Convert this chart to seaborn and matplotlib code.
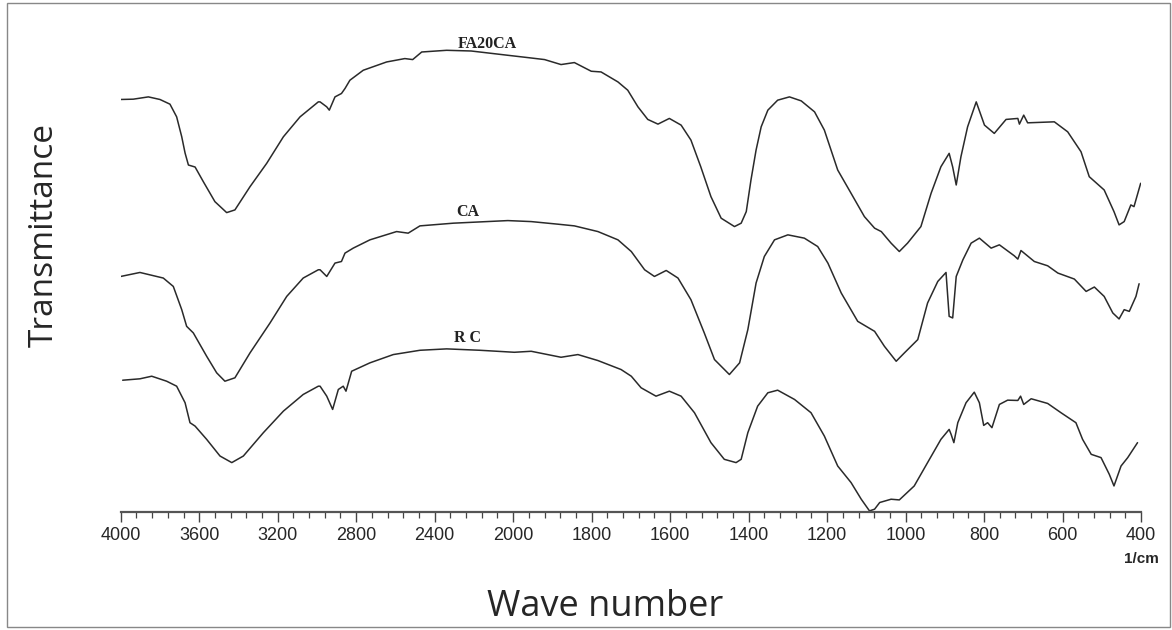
import numpy as np
import pandas as pd
import matplotlib
matplotlib.use("Agg")
import matplotlib.pyplot as plt
from matplotlib.patches import Rectangle
from matplotlib.ticker import FixedLocator
import seaborn as sns

# FTIR spectra (wavenumber in 1/cm, stacked transmittance in a.u.)
fa20ca_wn = [4000, 3936, 3859, 3800, 3749, 3715, 3689, 3672, 3655, 3621, 3579, 3520, 3460,
             3418, 3341, 3256, 3171, 3086, 2993, 2984, 2950, 2937, 2908, 2875, 2857, 2832,
             2764, 2645, 2552, 2512, 2466, 2339, 2214, 2027, 1963, 1920, 1878, 1844, 1801,
             1776, 1733, 1708, 1682, 1657, 1631, 1602, 1572, 1547, 1522, 1496, 1470, 1436,
             1419, 1406, 1394, 1381, 1368, 1351, 1326, 1296, 1266, 1232, 1207, 1173, 1139,
             1105, 1079, 1062, 1037, 1016, 995, 961, 935, 910, 889, 880, 871, 859, 842, 820,
             799, 774, 744, 714, 710, 699, 689, 621, 587, 553, 532, 494, 469, 456, 443, 426,
             418, 401]
fa20ca_t = [412.7, 413, 415.3, 412.7, 408, 395.3, 375.3, 359, 347, 345, 330.3, 310.3, 299.3,
            302, 325.3, 348.7, 375.3, 395.3, 410.3, 410.3, 405.3, 402, 415.3, 418.7, 423.7, 432,
            442, 450.3, 453.7, 452.7, 460.3, 462, 461.3, 457, 454.7, 452.7, 447.7, 449.7, 441,
            440.3, 430.3, 422, 405.3, 392.7, 388, 393.7, 387, 372, 345.3, 315.3, 293.7, 285.3,
            288.7, 300.3, 332, 362, 385.3, 402, 412, 415.3, 411.3, 400.3, 382, 342, 318.7,
            295.3, 283.7, 280.3, 268.7, 260.3, 268.7, 285.3, 318.7, 345.3, 358.7, 345, 327,
            355.3, 385.3, 410.3, 387, 378.7, 392.7, 393.7, 388, 397, 389.3, 390.3, 380.3,
            360.3, 335.3, 322, 300.3, 287, 290.3, 307, 305.3, 328.7]

ca_wn = [4000, 3902, 3783, 3732, 3689, 3664, 3630, 3562, 3511, 3469, 3418, 3341, 3239, 3154,
         3070, 2993, 2984, 2950, 2908, 2875, 2857, 2815, 2730, 2594, 2535, 2475, 2305, 2027,
         1954, 1886, 1844, 1784, 1733, 1699, 1665, 1640, 1610, 1580, 1547, 1513, 1487, 1449,
         1423, 1402, 1381, 1360, 1334, 1300, 1258, 1224, 1198, 1164, 1122, 1079, 1054, 1024,
         1003, 969, 944, 918, 897, 889, 880, 871, 854, 833, 812, 782, 761, 723, 714, 706,
         672, 638, 612, 570, 540, 519, 494, 472, 456, 443, 430, 413, 405]
ca_t = [235.3, 239.3, 233.7, 225.3, 202, 185.3, 178.7, 155.3, 138.7, 130.3, 133.7, 158.7,
        188.7, 215.3, 233.7, 242, 242, 235.3, 248.7, 250.3, 258.7, 263.7, 272, 280.3, 278.7,
        286, 288.7, 291.3, 290.3, 287.7, 286, 280.3, 272, 260.3, 242, 235.3, 241.3, 233.7,
        212, 178.7, 152, 137, 148.7, 182, 228.7, 255.3, 272, 277, 273.7, 265.3, 248.7, 218.7,
        190.3, 180.3, 165.3, 150.3, 158.7, 172, 208.7, 230.3, 239.3, 195.3, 193.7, 235.3,
        252, 268.7, 273.7, 263.7, 267, 256, 252.7, 261.3, 250.3, 246, 238.7, 232.7, 220.3,
        224.7, 215.3, 198.7, 192.7, 202, 200.3, 215.3, 228]

rc_wn = [3990, 3902, 3842, 3766, 3715, 3672, 3647, 3621, 3562, 3494, 3434, 3375, 3273, 3171,
         3070, 2993, 2984, 2950, 2920, 2891, 2866, 2852, 2823, 2730, 2611, 2475, 2339, 2169,
         1997, 1954, 1878, 1835, 1784, 1725, 1699, 1674, 1636, 1602, 1572, 1538, 1496, 1462,
         1432, 1419, 1402, 1377, 1351, 1326, 1283, 1241, 1207, 1173, 1139, 1113, 1092, 1079,
         1066, 1037, 1016, 978, 944, 910, 889, 884, 877, 867, 846, 825, 812, 801, 791, 780,
         761, 740, 714, 707, 699, 680, 638, 604, 566, 549, 527, 502, 481, 469, 451, 434, 409]
rc_t = [131.3, 132.7, 135.3, 130.3, 125.3, 108.7, 88.7, 85.3, 72, 55.3, 48.7, 55.3, 78.7,
        100.3, 117, 125.3, 125.3, 115.3, 102, 122, 125.3, 120.3, 140.3, 148.7, 157, 161.3,
        162.7, 161.3, 159.3, 160.3, 154.3, 157, 151, 142, 135.3, 123.7, 115.3, 120.3, 115.3,
        98.7, 68.7, 52, 48.7, 52, 78.7, 105.3, 118.7, 121.3, 112, 98.7, 75.3, 45.3, 28.7, 12,
        0.3, 2, 8.7, 12, 11.3, 25.3, 48.7, 72, 82, 77, 68.7, 88.7, 108.7, 119.3, 108.7, 86,
        88.7, 83.7, 107, 111.3, 111, 115.3, 107, 112.7, 108, 98.7, 88.7, 72, 57, 53.7, 37,
        25.3, 45.3, 53.7, 68.7]

sample_names = ["FA20CA", "CA", "R C"]
label_wn = [2131, 2230, 2233]
label_t = [468, 300, 174]

major_ticks = [4000, 3600, 3200, 2800, 2400, 2000, 1800, 1600, 1400, 1200, 1000, 800, 600, 400]

df = pd.concat([
    pd.DataFrame({"wn": fa20ca_wn, "t": fa20ca_t, "sample": "FA20CA"}),
    pd.DataFrame({"wn": ca_wn, "t": ca_t, "sample": "CA"}),
    pd.DataFrame({"wn": rc_wn, "t": rc_t, "sample": "R C"}),
])


# spectrometer style axis: 4000-2000 drawn at half the scale of 2000-400
def fwd(w):
    w = np.asarray(w, dtype=float)
    return np.where(w > 2000, 2000 + (w - 2000) / 2, w)


def inv(u):
    u = np.asarray(u, dtype=float)
    return np.where(u > 2000, 2000 + (u - 2000) * 2, u)


sns.set_style("white")
plt.rcParams["font.family"] = ["Liberation Sans", "DejaVu Sans"]

fig = plt.figure(figsize=(11.72, 6.30), dpi=100)
ax = fig.add_axes([0.103, 0.187, 0.8706, 0.749])

sns.lineplot(data=df, x="wn", y="t", hue="sample", estimator=None, sort=True,
             palette={n: "#2a2a2a" for n in sample_names}, linewidth=1.1,
             legend=False, ax=ax)

ax.set_xscale("function", functions=(fwd, inv))
ax.set_xlim(4000, 400)
ax.set_ylim(-1, 472)

minor = list(np.arange(4000, 2000, -80)) + list(np.arange(2000, 399, -40))
ax.xaxis.set_major_locator(FixedLocator(major_ticks))
ax.xaxis.set_minor_locator(FixedLocator(minor))
ax.set_xticklabels([str(t) for t in major_ticks])
ax.tick_params(axis="x", which="major", direction="out", length=7, width=1.0,
               color="#444444", labelsize=13, pad=4, bottom=True)
ax.tick_params(axis="x", which="minor", direction="out", length=4, width=0.9,
               color="#444444", bottom=True)
ax.set_yticks([])
for side in ["left", "top", "right"]:
    ax.spines[side].set_visible(False)
ax.spines["bottom"].set_color("#555555")
ax.spines["bottom"].set_linewidth(1.6)

for name, x, y in zip(sample_names, label_wn, label_t):
    ax.text(x, y, name, family="Liberation Serif", fontweight="bold", fontsize=11.5,
            ha="center", va="center", color="#222222")

ax.set_xlabel("")
ax.set_ylabel("")
fig.text(0.516, 0.037, "Wave number", family="Open Sans", fontsize=26,
         ha="center", va="center")
fig.text(0.038, 0.627, "Transmittance", family="Open Sans", fontsize=24,
         ha="center", va="center", rotation=90)
ax.text(1.0, -0.1, "1/cm", transform=ax.transAxes, fontsize=11, fontweight="bold",
        ha="center", va="center")

fig.patches.append(Rectangle((0.006, 0.004), 0.992, 0.992, transform=fig.transFigure,
                             fill=False, edgecolor="#888888", linewidth=1.0))

fig.savefig("out.png", dpi=100)
